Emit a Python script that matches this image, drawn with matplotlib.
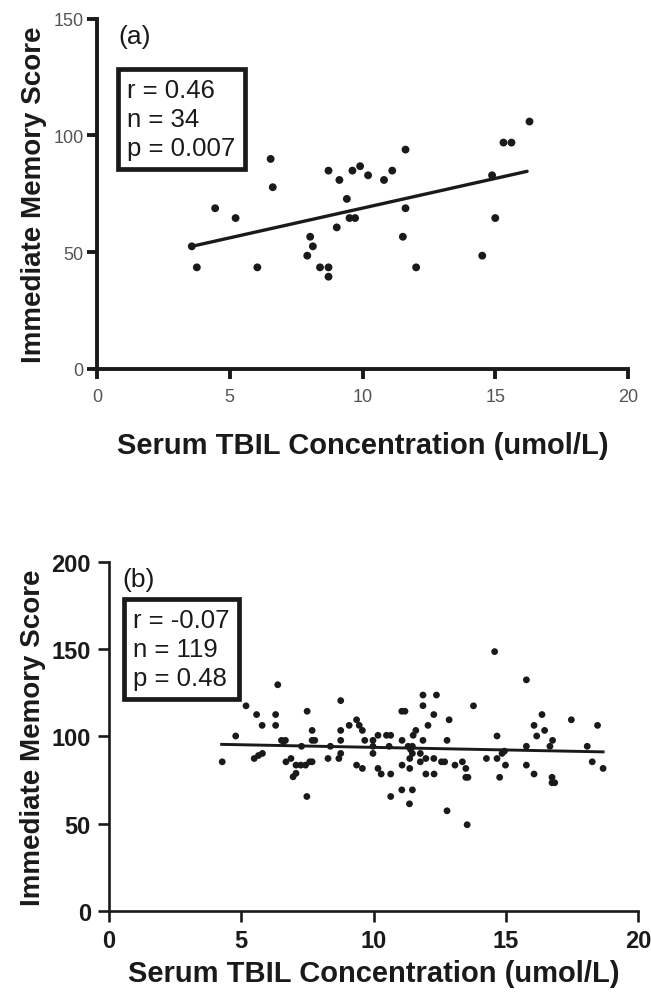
import matplotlib
matplotlib.use("Agg")
from matplotlib import pyplot as plt
import numpy as np

plt.rcParams['font.family'] = ['Liberation Sans', 'DejaVu Sans']

# panel (a): 34 subjects
tbil_a = [3.57, 3.76, 4.45, 5.22, 6.04, 6.54, 6.62, 7.92, 8.03, 8.13,
          8.40, 8.72, 8.72, 8.72, 9.03, 9.13, 9.41, 9.51, 9.62, 9.72,
          9.91, 10.21, 10.81, 11.12, 11.52, 11.62, 11.62, 12.02, 14.51, 14.88,
          15.00, 15.31, 15.61, 16.29]
mem_a = [52.5, 43.5, 68.8, 64.6, 43.5, 89.9, 77.8, 48.5, 56.6, 52.5,
         43.5, 84.9, 43.5, 39.5, 60.6, 80.9, 72.8, 64.6, 84.9, 64.6,
         86.8, 82.9, 80.9, 84.9, 56.6, 93.9, 68.8, 43.5, 48.5, 82.9,
         64.6, 96.9, 96.9, 105.9]
fit_a_x = [3.57, 16.2]
fit_a_y = [52.5, 84.6]

# panel (b): 119 subjects
tbil_b = [4.28, 4.79, 5.18, 5.58, 5.79, 6.30, 6.30, 6.38, 5.49, 5.65,
          5.80, 6.52, 6.60, 6.67, 6.69, 6.88, 7.07, 7.25, 7.43, 6.96,
          7.07, 7.59, 7.68, 7.48, 7.49, 7.68, 7.68, 7.78, 7.28, 8.28,
          8.37, 8.76, 8.76, 8.76, 8.76, 8.69, 9.08, 9.36, 9.46, 9.58,
          9.67, 9.98, 9.98, 9.98, 10.17, 10.49, 10.65, 10.59, 9.36, 9.58,
          10.17, 10.29, 10.65, 10.65, 11.07, 11.47, 11.36, 11.08, 11.37, 11.08,
          11.07, 11.19, 11.31, 11.40, 11.47, 11.47, 11.37, 11.50, 11.60, 11.77,
          11.77, 11.87, 11.87, 12.38, 11.87, 12.28, 12.06, 11.98, 12.28, 11.98,
          12.29, 12.57, 12.69, 12.86, 12.78, 12.78, 13.08, 13.36, 13.49, 13.49,
          13.57, 13.54, 13.78, 14.27, 14.58, 14.67, 14.67, 14.86, 14.95, 14.99,
          14.77, 15.78, 15.78, 15.78, 16.07, 16.07, 16.37, 16.47, 16.17, 16.77,
          16.67, 16.75, 16.75, 16.85, 17.48, 18.08, 18.47, 18.27, 18.68]
mem_b = [85.4, 100.2, 117.5, 112.5, 106.3, 112.5, 106.3, 129.6, 87.3, 89.0,
         90.2, 97.7, 97.0, 97.7, 85.4, 87.3, 83.5, 83.5, 83.5, 76.8,
         78.8, 85.4, 85.4, 65.5, 114.4, 103.4, 97.7, 97.7, 94.3, 87.3,
         94.3, 120.5, 103.4, 97.7, 90.2, 87.3, 106.3, 109.5, 106.3, 103.4,
         97.7, 97.7, 94.3, 90.2, 100.6, 100.6, 100.6, 94.3, 83.5, 81.6,
         81.6, 78.4, 78.4, 65.5, 69.3, 69.3, 61.3, 83.5, 81.6, 97.7,
         114.4, 114.4, 94.3, 92.5, 94.3, 90.2, 87.3, 100.6, 103.4, 90.2,
         85.4, 97.7, 123.7, 123.7, 117.6, 112.5, 106.3, 87.3, 87.3, 78.4,
         78.4, 85.4, 85.4, 109.5, 97.7, 57.3, 83.5, 85.4, 81.6, 76.5,
         76.5, 49.3, 117.5, 87.3, 148.6, 100.2, 87.3, 90.2, 91.5, 83.5,
         76.5, 132.4, 94.3, 83.5, 78.4, 106.3, 112.5, 103.4, 100.2, 97.7,
         94.3, 76.5, 73.4, 73.4, 109.5, 94.3, 106.3, 85.4, 81.6]
fit_b_x = [4.26, 18.68]
fit_b_y = [95.4, 91.1]

W, H = 651, 995
fig = plt.figure(figsize=(W / 100, H / 100), dpi=100)

def px_axes(left, right, top, bottom):
    return fig.add_axes([left / W, 1 - bottom / H, (right - left) / W, (bottom - top) / H])

ink = '#1a1a1a'

# ---- (a)
ax = px_axes(97, 628, 19.5, 370)
ax.scatter(tbil_a, mem_a, s=32, color=ink, edgecolors='none', zorder=3)
ax.plot(fit_a_x, fit_a_y, color=ink, lw=2.4, solid_capstyle='round')
ax.set_xlim(0, 20)
ax.set_ylim(0, 150)
ax.set_xticks([0, 5, 10, 15, 20])
ax.set_yticks([0, 50, 100, 150])
for s in ['top', 'right']:
    ax.spines[s].set_visible(False)
for s in ['left', 'bottom']:
    ax.spines[s].set_linewidth(2.8)
    ax.spines[s].set_color(ink)
ax.tick_params(direction='out', length=7.5, width=2.8, color=ink,
               labelsize=13, labelcolor='#555555')
ax.tick_params(axis='x', pad=6)
ax.tick_params(axis='y', pad=2)
ax.set_xlabel('Serum TBIL Concentration (umol/L)', fontsize=21, fontweight='bold',
              color=ink, labelpad=19)
ax.set_ylabel('Immediate Memory Score', fontsize=20, fontweight='bold',
              color=ink, labelpad=5)
ax.text(0.04, 0.985, '(a)', transform=ax.transAxes, fontsize=19, va='top', ha='left', color=ink)
ax.text(0.057, 0.83, 'r = 0.46\nn = 34\np = 0.007', transform=ax.transAxes,
        fontsize=18.5, va='top', ha='left', color=ink, linespacing=1.25,
        bbox=dict(boxstyle='square,pad=0.35', fc='white', ec=ink, lw=3.4))

# ---- (b)
bx = px_axes(109, 638, 563, 911.7)
bx.scatter(tbil_b, mem_b, s=24, color=ink, edgecolors='none', zorder=3)
bx.plot(fit_b_x, fit_b_y, color=ink, lw=2.1)
bx.set_xlim(0, 20)
bx.set_ylim(0, 200)
bx.set_xticks([0, 5, 10, 15, 20])
bx.set_yticks([0, 50, 100, 150, 200])
for s in ['top', 'right']:
    bx.spines[s].set_visible(False)
for s in ['left', 'bottom']:
    bx.spines[s].set_linewidth(1.9)
    bx.spines[s].set_color(ink)
bx.tick_params(direction='out', length=8, width=1.9, color=ink,
               labelsize=17, labelcolor=ink, pad=5)
for lab in bx.get_xticklabels() + bx.get_yticklabels():
    lab.set_fontweight('bold')
bx.set_xlabel('Serum TBIL Concentration (umol/L)', fontsize=21, fontweight='bold',
              color=ink, labelpad=5)
bx.set_ylabel('Immediate Memory Score', fontsize=20, fontweight='bold',
              color=ink, labelpad=4)
bx.text(0.025, 0.985, '(b)', transform=bx.transAxes, fontsize=19, va='top', ha='left', color=ink)
bx.text(0.046, 0.868, 'r = -0.07\nn = 119\np = 0.48', transform=bx.transAxes,
        fontsize=18.5, va='top', ha='left', color=ink, linespacing=1.25,
        bbox=dict(boxstyle='square,pad=0.35', fc='white', ec=ink, lw=3.4))

fig.savefig('out.png', dpi=100)
